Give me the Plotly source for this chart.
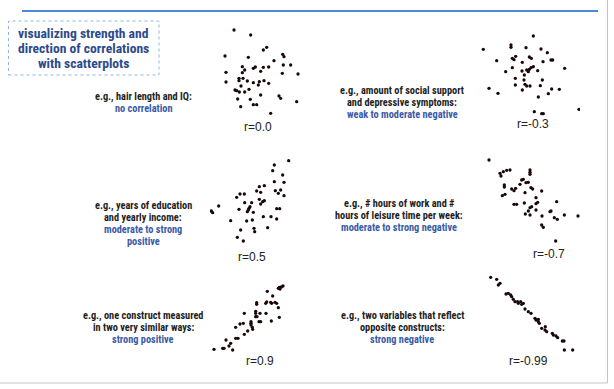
import plotly.graph_objects as go

W, H = 614, 389

# ---- data (panel-local units) ----
p1_x = [72,122,160,170,45,115,218,222,192,97,130,136,160,176,220,242,104,152,48,97,217,264,87,99,87,112,130,148,162,176,48,145,93,75,80,88,104,117,152,207,212,83,121,260,130,140,92,182]
p1_y = [315,300,255,263,237,233,242,235,223,205,200,204,203,204,210,210,195,191,188,187,185,183,170,170,163,162,157,160,163,155,159,150,147,135,133,129,129,137,120,117,110,108,107,100,91,91,85,65]

p2_x = [190,40,123,123,168,213,232,80,127,137,132,178,184,219,243,248,157,190,183,178,127,107,156,170,175,203,284,163,136,162,217,136,165,170,180,211,157,57,245,268,84,235,205,193,215,220,327]
p2_y = [297,257,270,263,262,258,247,223,230,236,226,234,230,220,225,225,218,205,202,197,202,190,192,195,190,193,200,180,170,165,165,150,152,147,147,148,135,140,138,137,125,124,114,70,64,64,77]

p3_x = [236,193,188,218,193,222,148,163,140,152,196,212,205,90,103,80,222,148,158,163,104,125,152,120,117,115,26,87,200,209,4,8,112,130,160,183,200,62,110,127,173,132,134,92,82,100]
p3_y = [313,300,283,270,250,248,235,238,222,218,223,225,215,213,213,203,208,197,190,193,187,187,183,175,170,165,177,167,169,169,162,157,160,158,145,145,138,133,132,135,112,110,100,105,83,72]

p4_x = [57,90,100,110,120,93,180,180,180,155,160,168,175,103,103,150,125,137,132,183,188,215,165,105,97,198,132,140,163,198,203,260,180,185,198,175,243,240,166,180,216,283,253,262,324,215,220,257]
p4_y = [300,260,265,269,270,252,270,263,257,240,242,232,233,225,219,227,213,215,208,217,213,207,202,197,193,187,167,167,171,169,173,175,157,160,150,147,147,145,138,135,132,135,127,122,132,105,98,57]

p5_x = [219,214,208,205,210,172,188,195,182,185,167,170,140,140,200,205,137,137,150,168,103,208,137,141,123,123,123,127,147,152,184,100,90,77,128,113,103,77,84,48,62,57,38,42,12,68]
p5_y = [237,234,233,230,228,221,207,188,188,185,185,189,187,182,185,172,161,155,155,155,155,143,145,145,130,125,120,113,130,130,132,125,123,113,107,102,92,80,80,75,65,57,50,50,47,45]

p6_x = [122,140,150,145,168,175,182,185,190,195,203,205,212,215,220,225,235,243,255,258,265,265,268,275,285,290,286,307,310,318,323,337,342,343,368]
p6_y = [278,272,260,255,228,230,225,220,212,205,205,200,205,197,200,183,175,170,155,150,152,145,140,125,120,115,130,110,105,102,97,87,87,60,60]

r_labels = ["r=0.0", "r=-0.3", "r=0.5", "r=-0.7", "r=0.9", "r=-0.99"]

desc_black = [
    ["e.g., hair length and IQ:"],
    ["e.g., amount of social support", "and depressive symptoms:"],
    ["e.g., years of education", "and yearly income:"],
    ["e.g., # hours of work and #", "hours of leisure time per week:"],
    ["e.g., one construct measured", "in two very similar ways:"],
    ["e.g., two variables that reflect", "opposite constructs:"],
]
desc_blue = [
    ["no correlation"],
    ["weak to moderate negative"],
    ["moderate to strong", "positive"],
    ["moderate to strong negative"],
    ["strong positive"],
    ["strong negative"],
]
title_lines = ["visualizing strength and", "direction of correlations", "with scatterplots"]

# ---- layout (pixel frames of each panel: left, top, width, height, data-x-range, data-y-range) ----
frames = [
    (210, 20, 110, 115, 330, 345),
    (470, 25, 110, 110, 330, 330),
    (210, 150, 100, 115, 300, 345),
    (470, 145, 110, 115, 330, 345),
    (210, 270, 100, 95, 300, 285),
    (450, 270, 140, 100, 420, 300),
]
r_pos = [(258, 127), (533, 124), (252, 257), (549, 254), (260, 361), (528, 361)]
desc_pos = [(143, 96), (402, 90), (143, 205), (399, 203.5), (143, 315), (402, 315)]
LINE = 12.2

series = [(p1_x, p1_y), (p2_x, p2_y), (p3_x, p3_y), (p4_x, p4_y), (p5_x, p5_y), (p6_x, p6_y)]

fig = go.Figure()
layout_axes = {}
for i, ((xs, ys), (fx, fy, fw, fh, xr, yr)) in enumerate(zip(series, frames)):
    n = i + 1
    xa = "x" if n == 1 else f"x{n}"
    ya = "y" if n == 1 else f"y{n}"
    fig.add_trace(go.Scatter(
        x=xs, y=ys, mode="markers", xaxis=xa, yaxis=ya,
        marker=dict(color="#1a0808", size=3.3, symbol="circle"),
        hoverinfo="skip", showlegend=False,
    ))
    kx = "xaxis" if n == 1 else f"xaxis{n}"
    ky = "yaxis" if n == 1 else f"yaxis{n}"
    layout_axes[kx] = dict(domain=[fx / W, (fx + fw) / W], range=[0, xr], visible=False,
                           anchor=ya, fixedrange=True)
    layout_axes[ky] = dict(domain=[1 - (fy + fh) / H, 1 - fy / H], range=[0, yr], visible=False,
                           anchor=xa, fixedrange=True)

fig.update_layout(**layout_axes)

TXT_FONT = "Liberation Sans Narrow, Roboto Condensed, Arial Narrow, Liberation Sans, sans-serif"
annotations = []


def add_text(txt, px, py, size, color, family=TXT_FONT, bold=True):
    annotations.append(dict(x=px / W, y=1 - py / H, xref="paper", yref="paper",
                            text=f"<b>{txt}</b>" if bold else txt,
                            showarrow=False, xanchor="center", yanchor="middle", align="center",
                            font=dict(family=family, size=size, color=color)))


for lab, (px, py) in zip(r_labels, r_pos):
    add_text(lab, px, py, 12, "#222222", family="Liberation Sans, Arial, sans-serif", bold=False)

for blk, blu, (px, py) in zip(desc_black, desc_blue, desc_pos):
    k = 0
    for t in blk:
        add_text(t, px, py + k * LINE, 10.3, "#1e1e1e")
        k += 1
    for t in blu:
        add_text(t, px, py + k * LINE, 10.3, "#3a5ba8")
        k += 1

for k, t in enumerate(title_lines):
    add_text(t, 83.5, 33 + 15 * k, 13.6, "#2d4a8a")

shapes = [
    dict(type="line", xref="paper", yref="paper", x0=22 / W, x1=598 / W, y0=1 - 11 / H, y1=1 - 11 / H,
         line=dict(color="#4a8ad6", width=2)),
    dict(type="rect", xref="paper", yref="paper", x0=8.5 / W, x1=159 / W, y0=1 - 75 / H, y1=1 - 21 / H,
         line=dict(color="#8db8e8", width=1, dash="dot")),
    dict(type="line", xref="paper", yref="paper", x0=607.5 / W, x1=607.5 / W, y0=1 - 383 / H, y1=1,
         line=dict(color="#c4c4c4", width=1)),
    dict(type="line", xref="paper", yref="paper", x0=0, x1=607.5 / W, y0=1 - 383 / H, y1=1 - 383 / H,
         line=dict(color="#c4c4c4", width=1)),
]

fig.update_layout(
    width=W, height=H, margin=dict(l=0, r=0, t=0, b=0),
    paper_bgcolor="white", plot_bgcolor="white",
    annotations=annotations, shapes=shapes, showlegend=False,
)

fig.write_html("out.html", config={"displayModeBar": False},
               post_script="document.body.style.margin='0';document.body.style.overflow='hidden';")
